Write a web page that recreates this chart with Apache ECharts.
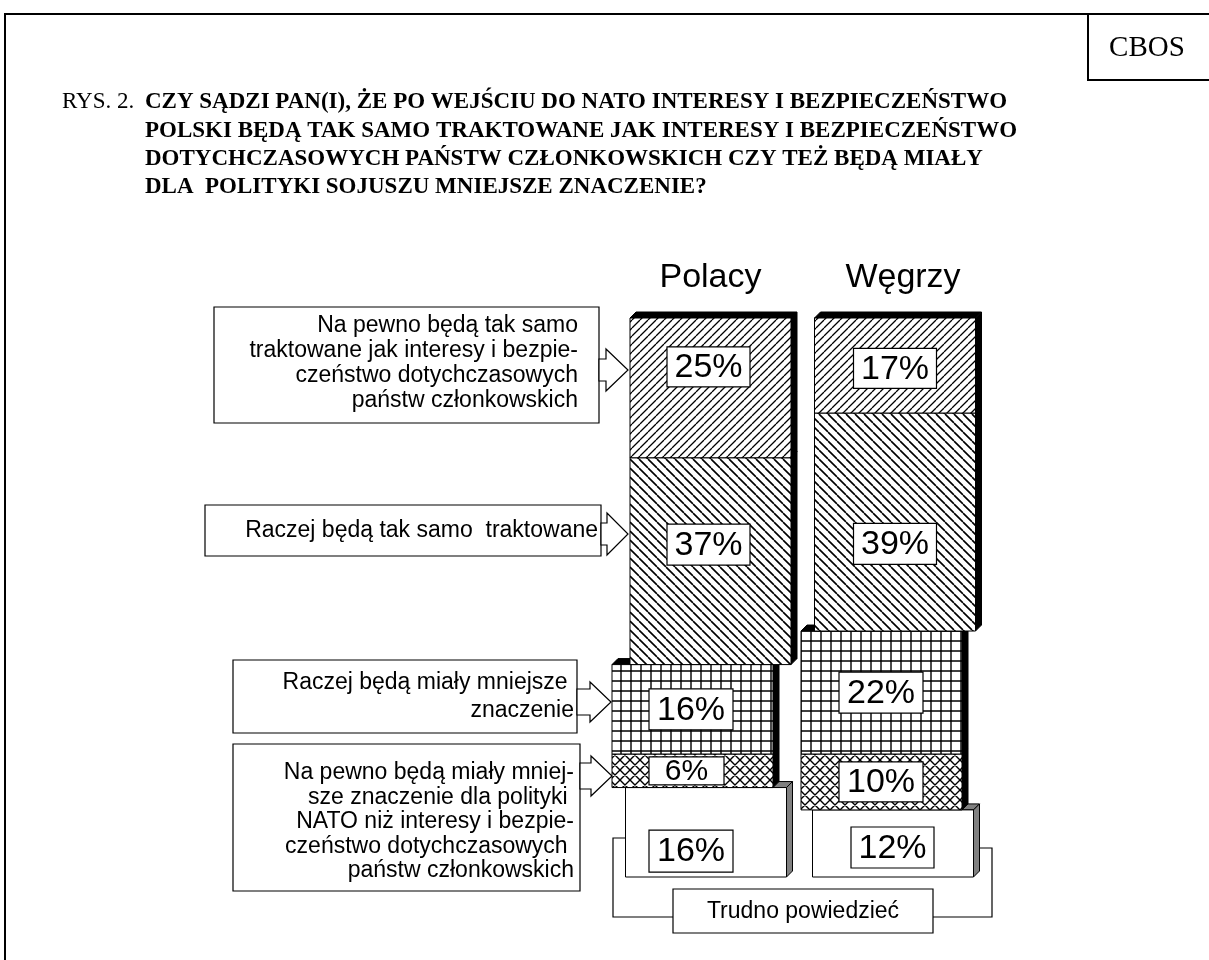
<!DOCTYPE html>
<html>
<head>
<meta charset="utf-8">
<script src="https://cdn.jsdelivr.net/npm/echarts@6/dist/echarts.min.js"></script>
<style>
html,body{margin:0;padding:0;background:#fff;}
#chart{width:1209px;height:960px;}
</style>
</head>
<body>
<div id="chart"></div>
<script>
// ---- data ----
const categories = ['Polacy', 'Węgrzy'];
const answerNames = [
  'Na pewno będą tak samo traktowane',
  'Raczej będą tak samo traktowane',
  'Raczej będą miały mniejsze znaczenie',
  'Na pewno będą miały mniejsze znaczenie',
  'Trudno powiedzieć'
];
const naPewnoTakSamo = [25, 17];
const raczejTakSamo = [37, 39];
const raczejMniejsze = [16, 22];
const naPewnoMniejsze = [6, 10];
const trudnoPowiedziec = [16, 12];
const seriesValues = [naPewnoTakSamo, raczejTakSamo, raczejMniejsze, naPewnoMniejsze, trudnoPowiedziec];

const titleLines = [
  'CZY SĄDZI PAN(I), ŻE PO WEJŚCIU DO NATO INTERESY I BEZPIECZEŃSTWO',
  'POLSKI BĘDĄ TAK SAMO TRAKTOWANE JAK INTERESY I BEZPIECZEŃSTWO',
  'DOTYCHCZASOWYCH PAŃSTW CZŁONKOWSKICH CZY TEŻ BĘDĄ MIAŁY',
  'DLA  POLITYKI SOJUSZU MNIEJSZE ZNACZENIE?'
];
const boxTexts = [
  ['Na pewno będą tak samo', 'traktowane jak interesy i bezpie-', 'czeństwo dotychczasowych', 'państw członkowskich'],
  ['Raczej będą tak samo  traktowane'],
  ['Raczej będą miały mniejsze ', 'znaczenie'],
  ['Na pewno będą miały mniej-', 'sze znaczenie dla polityki ', 'NATO niż interesy i bezpie-', 'czeństwo dotychczasowych ', 'państw członkowskich']
];

// ---- patterns ----
function tile(size, lw, draw) {
  const c = document.createElement('canvas');
  c.width = size; c.height = size;
  const g = c.getContext('2d');
  g.fillStyle = '#fff'; g.fillRect(0, 0, size, size);
  g.strokeStyle = '#000'; g.lineWidth = lw;
  g.beginPath(); draw(g, size); g.stroke();
  return c;
}
const patSlash = tile(8, 1.3, (g, s) => { for (const k of [-s, 0, s]) { g.moveTo(k, s); g.lineTo(k + s, 0); } });
const patBack = tile(9, 1.6, (g, s) => { for (const k of [-s, 0, s]) { g.moveTo(k, 0); g.lineTo(k + s, s); } });
const patGrid = tile(10, 1.4, (g, s) => { g.moveTo(1, 0); g.lineTo(1, s); g.moveTo(0, 1); g.lineTo(s, 1); });
const patCross = tile(10, 1.4, (g, s) => { for (const k of [-s, 0, s]) { g.moveTo(k, s); g.lineTo(k + s, 0); g.moveTo(k, 0); g.lineTo(k + s, s); } });
const fills = [
  { image: patSlash, repeat: 'repeat' },
  { image: patBack, repeat: 'repeat' },
  { image: patGrid, repeat: 'repeat' },
  { image: patCross, repeat: 'repeat' },
  '#ffffff'
];
const faceColors = ['#000', '#000', '#000', '#000', '#808080'];

// ---- layout (styling) ----
const BW = 161, D = 6;
const DX = [[0, 0], [0, 0], [-18, -13.5], [-18, -13.5], [-4.5, -2]];
const LFRAC = [[0.35, 0.53], [0.42, 0.6], [0.5, 0.5], [0.5, 0.5], [0.71, 0.56]];
const LDX = [[-2, 0], [-2, 0], [-1.5, -0.5], [-6, -0.5], [-15, -0.5]];
const LW = [[83, 83], [83, 83], [84, 84], [75, 84], [84, 83]];
const LH = [[40, 40], [41, 41], [41, 41], [28, 40], [42, 41]];
const LFS = [[34, 34], [34, 34], [34, 34], [30, 34], [34, 34]];
const SANS = 'Liberation Sans, Arial, sans-serif';
const SERIF = 'Liberation Serif, Times New Roman, serif';

// cumulative stacks (top to bottom)
const cumStart = [], cumEnd = [];
seriesValues.forEach((vals, i) => {
  cumStart.push(vals.map((v, c) => i === 0 ? 0 : cumEnd[i - 1][c]));
  cumEnd.push(vals.map((v, c) => cumStart[i][c] + v));
});

function makeRender(i) {
  return function (params, api) {
    const c = api.value(0);
    const p0 = api.coord([c, api.value(1)]);
    const p1 = api.coord([c, api.value(2)]);
    const val = api.value(3);
    const cx = p0[0] + DX[i][c];
    const x0 = cx - BW / 2, x1 = cx + BW / 2;
    const y0 = p0[1], y1 = p1[1];
    const ly = y0 + LFRAC[i][c] * (y1 - y0);
    const lx = cx + LDX[i][c];
    const w = LW[i][c], h = LH[i][c];
    return {
      type: 'group',
      children: [
        { type: 'polygon', shape: { points: [[x0, y0], [x0 + D, y0 - D], [x1 + D, y0 - D], [x1, y0]] },
          style: { fill: faceColors[i], stroke: '#000', lineWidth: 1 } },
        { type: 'polygon', shape: { points: [[x1, y0], [x1 + D, y0 - D], [x1 + D, y1 - D], [x1, y1]] },
          style: { fill: faceColors[i], stroke: '#000', lineWidth: 1 } },
        { type: 'rect', shape: { x: x0, y: y0, width: BW, height: y1 - y0 },
          style: { fill: fills[i], stroke: '#000', lineWidth: 1 } },
        { type: 'rect', shape: { x: lx - w / 2, y: ly - h / 2, width: w, height: h },
          style: { fill: '#fff', stroke: '#000', lineWidth: 1.2 } },
        { type: 'text', style: { text: val + '%', x: lx, y: ly + 1, align: 'center', verticalAlign: 'middle',
          fontSize: LFS[i][c], fontFamily: SANS, fill: '#000' } }
      ]
    };
  };
}

const series = seriesValues.map((vals, i) => ({
  type: 'custom',
  name: answerNames[i],
  z: 10 - i,
  clip: false,
  renderItem: makeRender(i),
  encode: { x: 0, y: [1, 2] },
  data: categories.map((cat, c) => [c, cumStart[i][c], cumEnd[i][c], vals[c]])
}));

// ---- graphics: frame, title, annotation boxes ----
const g = [];
g.push({ type: 'polyline', shape: { points: [[5, 962], [5, 14], [1212, 14]] }, style: { stroke: '#000', lineWidth: 2, fill: null } });
g.push({ type: 'polyline', shape: { points: [[1088, 14], [1088, 80], [1212, 80]] }, style: { stroke: '#000', lineWidth: 2, fill: null } });
g.push({ type: 'text', style: { text: 'CBOS', x: 1147, y: 48, align: 'center', verticalAlign: 'middle', fontSize: 29, fontFamily: SERIF, fill: '#000' } });
g.push({ type: 'text', style: { text: 'RYS. 2.', x: 62, y: 102, align: 'left', verticalAlign: 'middle', fontSize: 23, fontFamily: SERIF, fill: '#000' } });
const titleY = [102, 131, 159, 187];
titleLines.forEach((t, k) => {
  g.push({ type: 'text', style: { text: t, x: 145, y: titleY[k], align: 'left', verticalAlign: 'middle', fontSize: 23, fontWeight: 'bold', fontFamily: SERIF, fill: '#000' } });
});

function box(x0, y0, x1, y1) {
  g.push({ type: 'rect', shape: { x: x0, y: y0, width: x1 - x0, height: y1 - y0 }, style: { fill: '#fff', stroke: '#000', lineWidth: 1.2 } });
}
function arrow(bx, hx, tx, cy, sh, hh) {
  g.push({ type: 'polygon', shape: { points: [[bx, cy - sh], [hx, cy - sh], [hx, cy - hh], [tx, cy], [hx, cy + hh], [hx, cy + sh], [bx, cy + sh]] },
    style: { fill: '#fff', stroke: '#000', lineWidth: 1.2 } });
}
function lines(arr, xr, ys) {
  arr.forEach((t, k) => g.push({ type: 'text', style: { text: t, x: xr, y: ys[k], align: 'right', verticalAlign: 'middle', fontSize: 23, fontFamily: SANS, fill: '#000' } }));
}
box(214, 307, 599, 423); arrow(599, 606, 628, 370, 11, 21);
lines(boxTexts[0], 578, [326, 351, 376, 401]);
box(205, 505, 601, 556); arrow(601, 607, 628, 534, 11, 21);
lines(boxTexts[1], 598, [531]);
box(233, 660, 577, 733); arrow(577, 590, 611, 702, 13, 20);
lines(boxTexts[2], 574, [683, 711]);
box(233, 744, 580, 891); arrow(580, 591, 612, 776, 13, 20);
lines(boxTexts[3], 574, [773, 798, 822, 847, 871]);

// Trudno powiedzieć
g.push({ type: 'polyline', shape: { points: [[673, 917], [613, 917], [613, 838], [626, 838]] }, style: { stroke: '#000', lineWidth: 1.2, fill: null } });
g.push({ type: 'polyline', shape: { points: [[933, 917], [992, 917], [992, 848], [978, 848]] }, style: { stroke: '#000', lineWidth: 1.2, fill: null } });
box(673, 889, 933, 933);
g.push({ type: 'text', style: { text: answerNames[4], x: 803, y: 912, align: 'center', verticalAlign: 'middle', fontSize: 23, fontFamily: SANS, fill: '#000' } });

const chart = echarts.init(document.getElementById('chart'));
chart.setOption({
  animation: false,
  backgroundColor: '#fff',
  grid: { left: 618.25, width: 369, top: 318, height: 559 },
  xAxis: {
    type: 'category', data: categories, position: 'top',
    axisLine: { show: false }, axisTick: { show: false }, splitLine: { show: false },
    axisLabel: {
      margin: 23, color: '#000',
      formatter: (v, idx) => idx === 1 ? '{w|' + v + '}' : '{p|' + v + '}',
      rich: {
        p: { fontSize: 34, fontFamily: SANS, color: '#000' },
        w: { fontSize: 34, fontFamily: SANS, color: '#000', padding: [0, 0, 0, 16] }
      }
    }
  },
  yAxis: { type: 'value', min: 0, max: 100, inverse: true, show: false },
  series: series,
  graphic: { elements: g }
});
</script>
</body>
</html>
